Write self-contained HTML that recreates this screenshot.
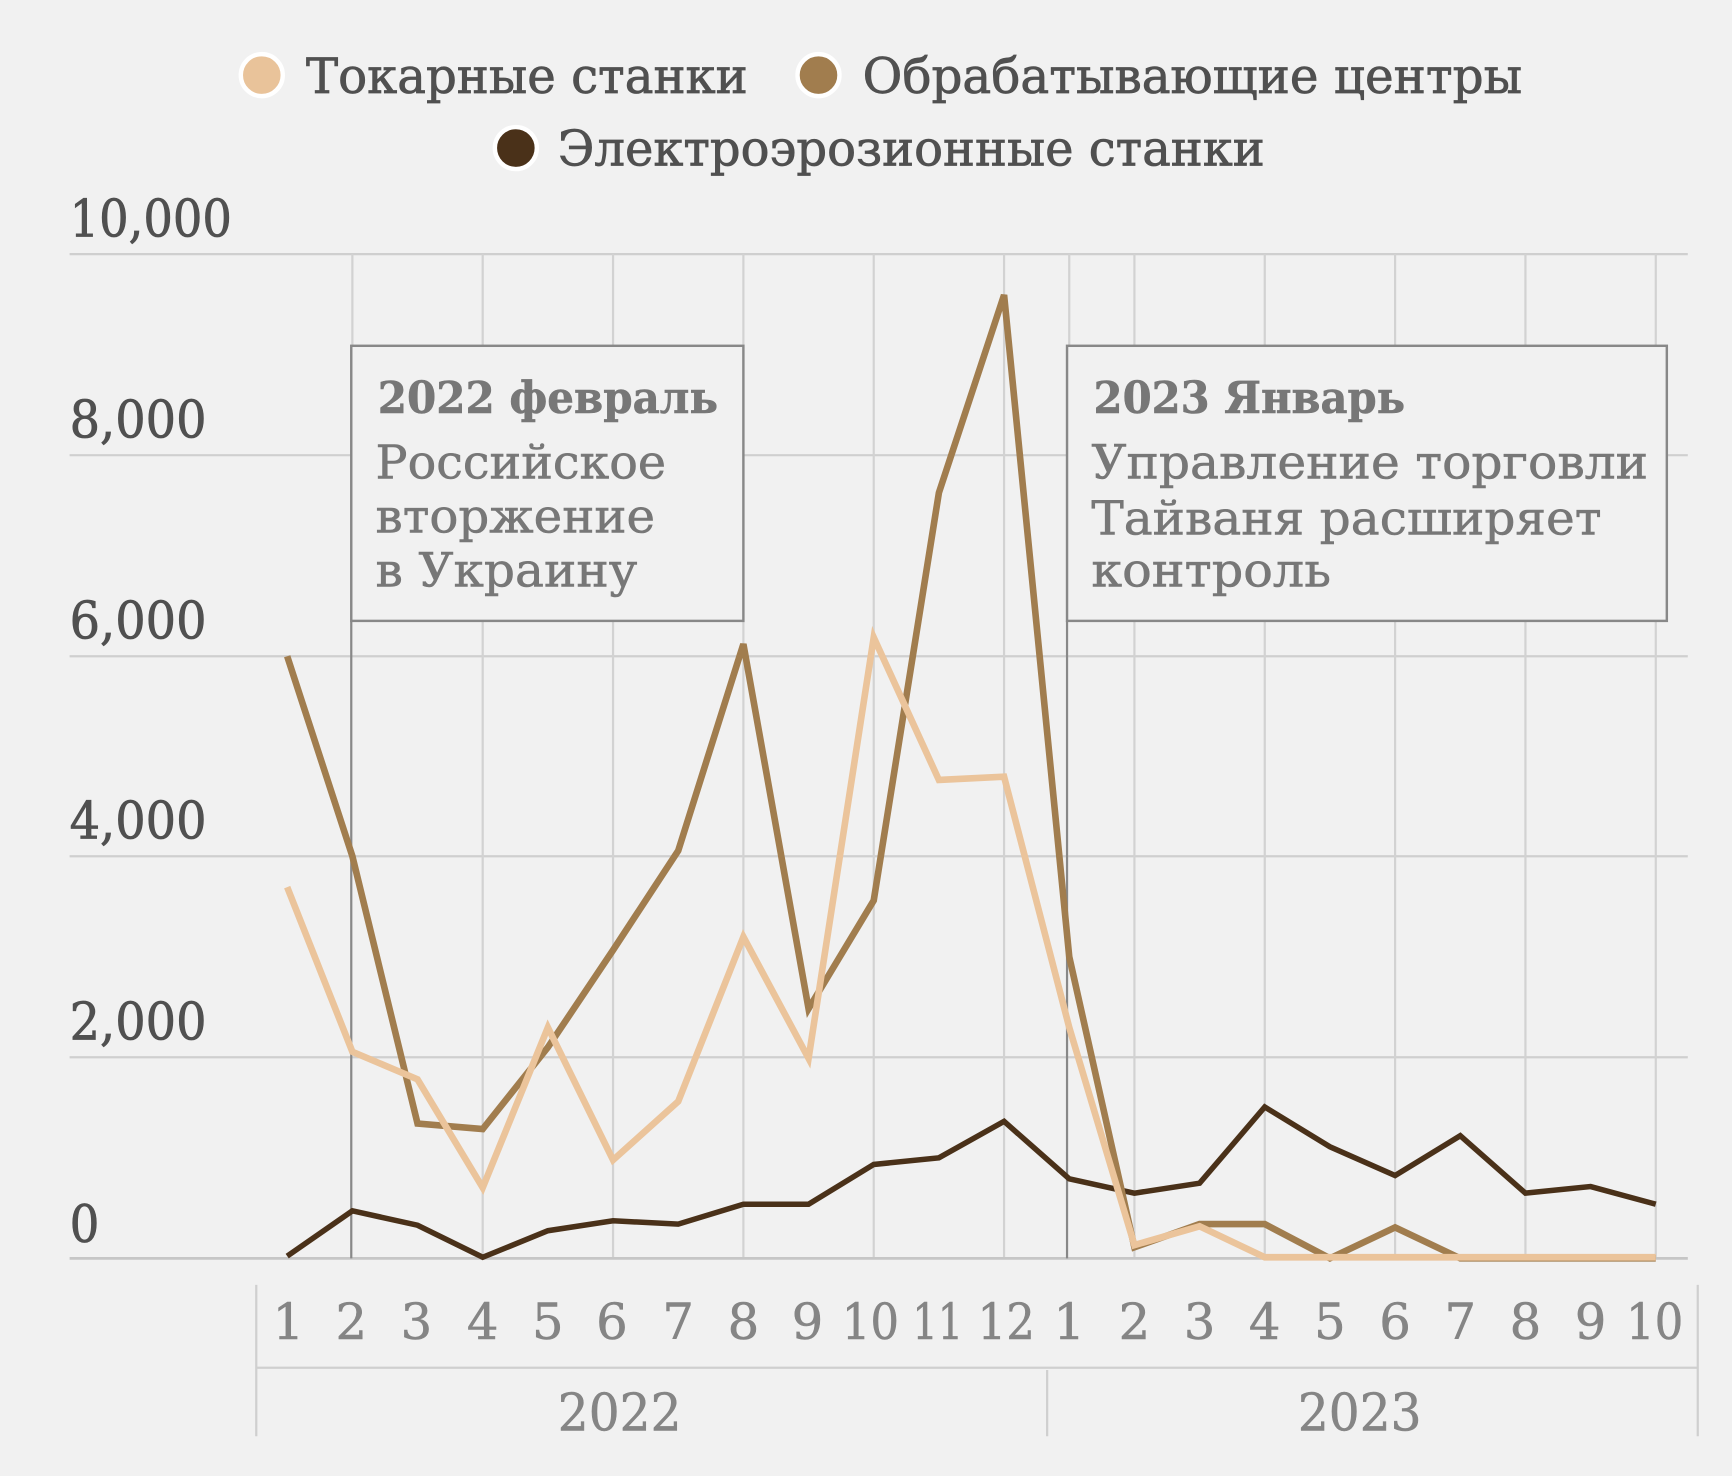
<!DOCTYPE html>
<html><head><meta charset="utf-8"><style>
html,body{margin:0;padding:0;background:#f1f1f1;}
svg{display:block;}
text{font-family:"DejaVu Serif","Liberation Serif",serif;}
</style></head><body>
<svg width="1732" height="1476" viewBox="0 0 1568 1336" preserveAspectRatio="none" xmlns="http://www.w3.org/2000/svg">
<rect x="0" y="0" width="1568" height="1336" fill="#f1f1f1"/>

<!-- Legend -->
<circle cx="237" cy="68" r="19" fill="#e9c39a" stroke="#ffffff" stroke-width="4"/>
<text x="277" y="84" font-size="44" fill="#505050" stroke="#505050" stroke-width="0.7" textLength="400" lengthAdjust="spacingAndGlyphs">Токарные станки</text>
<circle cx="741" cy="68" r="19" fill="#a17d4e" stroke="#ffffff" stroke-width="4"/>
<text x="781" y="84" font-size="44" fill="#505050" stroke="#505050" stroke-width="0.7" textLength="597" lengthAdjust="spacingAndGlyphs">Обрабатывающие центры</text>
<circle cx="467" cy="134" r="19" fill="#4a3119" stroke="#ffffff" stroke-width="4"/>
<text x="505" y="150" font-size="44" fill="#505050" stroke="#505050" stroke-width="0.7" textLength="640" lengthAdjust="spacingAndGlyphs">Электроэрозионные станки</text>

<!-- Y labels -->
<g font-size="47" fill="#505050" stroke="#505050" stroke-width="0.7">
<text x="63" y="214" textLength="147" lengthAdjust="spacingAndGlyphs">10,000</text>
<text x="63" y="396" textLength="124" lengthAdjust="spacingAndGlyphs">8,000</text>
<text x="63" y="578" textLength="124" lengthAdjust="spacingAndGlyphs">6,000</text>
<text x="63" y="759" textLength="124" lengthAdjust="spacingAndGlyphs">4,000</text>
<text x="63" y="941" textLength="124" lengthAdjust="spacingAndGlyphs">2,000</text>
<text x="63" y="1124" textLength="27" lengthAdjust="spacingAndGlyphs">0</text>
</g>

<!-- Horizontal gridlines -->
<g stroke="#cfcfcf" stroke-width="2">
<line x1="63" y1="230" x2="1528" y2="230"/>
<line x1="63" y1="412" x2="1528" y2="412"/>
<line x1="63" y1="594" x2="1528" y2="594"/>
<line x1="63" y1="775" x2="1528" y2="775"/>
<line x1="63" y1="957" x2="1528" y2="957"/>
</g>
<!-- Vertical gridlines (even months) -->
<g stroke="#d2d2d2" stroke-width="2">
<line x1="437" y1="230" x2="437" y2="1139"/>
<line x1="555" y1="230" x2="555" y2="1139"/>
<line x1="673" y1="230" x2="673" y2="1139"/>
<line x1="791" y1="230" x2="791" y2="1139"/>
<line x1="909" y1="230" x2="909" y2="1139"/>
<line x1="1027" y1="230" x2="1027" y2="1139"/>
<line x1="1145" y1="230" x2="1145" y2="1139"/>
<line x1="1263" y1="230" x2="1263" y2="1139"/>
<line x1="1381" y1="230" x2="1381" y2="1139"/>
<line x1="1499" y1="230" x2="1499" y2="1139"/>
<line x1="319" y1="230" x2="319" y2="313"/>
<line x1="968" y1="230" x2="968" y2="313"/>
</g>
<line x1="63" y1="1139" x2="1528" y2="1139" stroke="#c6c6c6" stroke-width="2.5"/>

<!-- Annotation lines -->
<g stroke="#888" stroke-width="2">
<line x1="318" y1="562" x2="318" y2="1139"/>
<line x1="966" y1="562" x2="966" y2="1139"/>
</g>

<!-- Annotation boxes -->
<rect x="318" y="313" width="355" height="249" fill="#f1f1f1" stroke="#888" stroke-width="2.2"/>
<rect x="966" y="313" width="543" height="249" fill="#f1f1f1" stroke="#888" stroke-width="2.2"/>
<g fill="#777" stroke="#777" stroke-width="0.5">
<text x="342" y="374" font-size="40" font-weight="bold" textLength="308" lengthAdjust="spacingAndGlyphs">2022 февраль</text>
<text x="340" y="433" font-size="42" textLength="263" lengthAdjust="spacingAndGlyphs">Российское</text>
<text x="340" y="482" font-size="42" textLength="253" lengthAdjust="spacingAndGlyphs">вторжение</text>
<text x="340" y="531" font-size="42" textLength="237" lengthAdjust="spacingAndGlyphs">в Украину</text>
<text x="990" y="374" font-size="40" font-weight="bold" textLength="282" lengthAdjust="spacingAndGlyphs">2023 Январь</text>
<text x="988" y="433" font-size="42" textLength="504" lengthAdjust="spacingAndGlyphs">Управление торговли</text>
<text x="988" y="484" font-size="42" textLength="462" lengthAdjust="spacingAndGlyphs">Тайваня расширяет</text>
<text x="988" y="531" font-size="42" textLength="217" lengthAdjust="spacingAndGlyphs">контроль</text>
</g>

<!-- Series -->
<polyline fill="none" stroke="#4a3119" stroke-width="5" stroke-linejoin="miter" points="260,1137 319,1096 378,1109 437,1138 496,1114 555,1105 614,1108 673,1090 732,1090 791,1054 850,1048 909,1015 968,1067 1027,1080 1086,1071 1145,1002 1204,1038 1263,1064 1322,1028 1381,1080 1440,1074 1499,1090"/>
<polyline fill="none" stroke="#a17d4e" stroke-width="6" stroke-linejoin="miter" points="260,594 319,775 378,1017 437,1022 496,948 555,860 614,770 673,583 732,913 791,815 850,446 909,267 968,866 1027,1129 1086,1108 1145,1108 1204,1139 1263,1111 1322,1139 1381,1139 1440,1139 1499,1139"/>
<polyline fill="none" stroke="#ebc49b" stroke-width="6" stroke-linejoin="miter" points="260,803 319,952 378,977 437,1075 496,930 555,1050 614,997 673,848 732,958 791,577 850,706 909,703 968,930 1027,1127 1086,1110 1145,1138 1204,1138 1263,1138 1322,1138 1381,1138 1440,1138 1499,1138"/>

<!-- X axis month labels -->
<g font-size="45" fill="#858585" stroke="#858585" stroke-width="0.5" text-anchor="middle">
<text x="261" y="1212">1</text>
<text x="318" y="1212">2</text>
<text x="377" y="1212">3</text>
<text x="437" y="1212">4</text>
<text x="496" y="1212">5</text>
<text x="554" y="1212">6</text>
<text x="614" y="1212">7</text>
<text x="673" y="1212">8</text>
<text x="731" y="1212">9</text>
<text x="788" y="1212" textLength="52" lengthAdjust="spacingAndGlyphs">10</text>
<text x="849" y="1212" textLength="46" lengthAdjust="spacingAndGlyphs">11</text>
<text x="911" y="1212" textLength="52" lengthAdjust="spacingAndGlyphs">12</text>
<text x="968" y="1212">1</text>
<text x="1027" y="1212">2</text>
<text x="1086" y="1212">3</text>
<text x="1145" y="1212">4</text>
<text x="1204" y="1212">5</text>
<text x="1263" y="1212">6</text>
<text x="1322" y="1212">7</text>
<text x="1381" y="1212">8</text>
<text x="1440" y="1212">9</text>
<text x="1498" y="1212" textLength="52" lengthAdjust="spacingAndGlyphs">10</text>
</g>

<!-- Bottom axis structure -->
<g stroke="#cfcfcf" stroke-width="2">
<line x1="232" y1="1163" x2="232" y2="1300"/>
<line x1="1537" y1="1163" x2="1537" y2="1300"/>
<line x1="948" y1="1240" x2="948" y2="1300"/>
<line x1="232" y1="1238" x2="1537" y2="1238"/>
</g>
<g font-size="47" fill="#858585" stroke="#858585" stroke-width="0.5" text-anchor="middle">
<text x="561" y="1295" textLength="112" lengthAdjust="spacingAndGlyphs">2022</text>
<text x="1231" y="1295" textLength="112" lengthAdjust="spacingAndGlyphs">2023</text>
</g>
</svg>
</body></html>
